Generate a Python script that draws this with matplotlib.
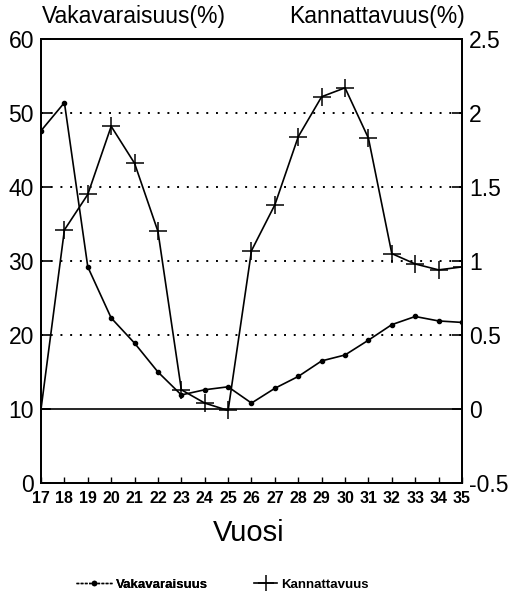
import matplotlib.pyplot as plt
from matplotlib.lines import Line2D

plt.rcParams['font.family'] = ['Liberation Sans', 'DejaVu Sans']

# vuodet ja sarjat
years = list(range(17, 36))
vakavaraisuus = [47.6, 51.4, 29.2, 22.3, 18.9, 15.0, 11.9, 12.6, 13.0, 10.8,
                 12.8, 14.4, 16.5, 17.3, 19.3, 21.4, 22.5, 21.9, 21.7]
kannattavuus = [0.0, 1.21, 1.45, 1.91, 1.66, 1.20, 0.13, 0.04, -0.01, 1.07,
                1.38, 1.84, 2.11, 2.17, 1.83, 1.05, 0.98, 0.94, 0.96]
left_ticks = [0, 10, 20, 30, 40, 50, 60]
right_ticks = [-0.5, 0, 0.5, 1, 1.5, 2, 2.5]
right_labels = ['-0.5', '0', '0.5', '1', '1.5', '2', '2.5']
grid_levels = [20, 30, 40, 50]

narrow = ['Liberation Sans Narrow', 'Liberation Sans', 'DejaVu Sans']


def drawChart():
    fig = plt.figure(figsize=(5.09, 5.98), dpi=100)
    ax = fig.add_axes([0.0806, 0.1923, 0.827, 0.7425])
    ax2 = ax.twinx()

    # pisteviivat ja nollataso
    for g in grid_levels:
        ax.axhline(g, color='black', linestyle=(0, (1, 4)), linewidth=1.4, zorder=1)
    ax.axhline(10, color='black', linewidth=1.2, zorder=1)

    ax.plot(years, vakavaraisuus, color='black', linewidth=1.2,
            marker='o', markersize=3, zorder=3)
    ax2.plot(years, kannattavuus, color='black', linewidth=1.2,
             marker='+', markersize=13, markeredgewidth=1.1, zorder=3)

    ax.set_xlim(17, 35)
    ax.set_ylim(0, 60)
    ax2.set_ylim(-0.5, 2.5)
    ax.set_yticks(left_ticks)
    ax.set_yticklabels([str(t) for t in left_ticks], fontsize=16.5)
    ax2.set_yticks(right_ticks)
    ax2.set_yticklabels(right_labels, fontsize=16.5)
    ax.set_xticks(years)
    ax.set_xticklabels([str(y) for y in years], fontsize=11.5,
                       fontweight='bold', family=narrow)

    ax.tick_params(axis='y', direction='in', length=7, width=1.2, pad=5)
    ax2.tick_params(axis='y', direction='in', length=7, width=1.2, pad=5)
    ax.tick_params(axis='x', direction='in', length=4, width=1.0, pad=6)

    for a in (ax, ax2):
        for s in a.spines.values():
            s.set_linewidth(1.3)

    fig.text(0.083, 0.973, 'Vakavaraisuus(%)', fontsize=16.5, ha='left', va='center')
    fig.text(0.913, 0.973, 'Kannattavuus(%)', fontsize=16.5, ha='right', va='center')
    fig.text(0.4895, 1 - 533 / 598, 'Vuosi', fontsize=21, ha='center', va='center')

    # kaksi erillistä selitettä, eri mittaiset viivat
    h1 = Line2D([], [], color='black', linewidth=1.0, linestyle=(0, (2, 1)),
                marker='o', markersize=3)
    h2 = Line2D([], [], color='black', linewidth=1.2, marker='+',
                markersize=11, markeredgewidth=1.1)
    legend_font = {'size': 9.5, 'weight': 'bold'}
    leg1 = fig.legend([h1], ['Vakavaraisuus'], loc='center left',
                      bbox_to_anchor=(0.137, 0.022), frameon=False, borderpad=0,
                      handlelength=2.7, handletextpad=0.3, prop=legend_font)
    fig.add_artist(leg1)
    fig.legend([h2], ['Kannattavuus'], loc='center left',
               bbox_to_anchor=(0.486, 0.022), frameon=False, borderpad=0,
               handlelength=1.75, handletextpad=0.3, prop=legend_font)

    fig.savefig('out.png', dpi=100)


drawChart()
